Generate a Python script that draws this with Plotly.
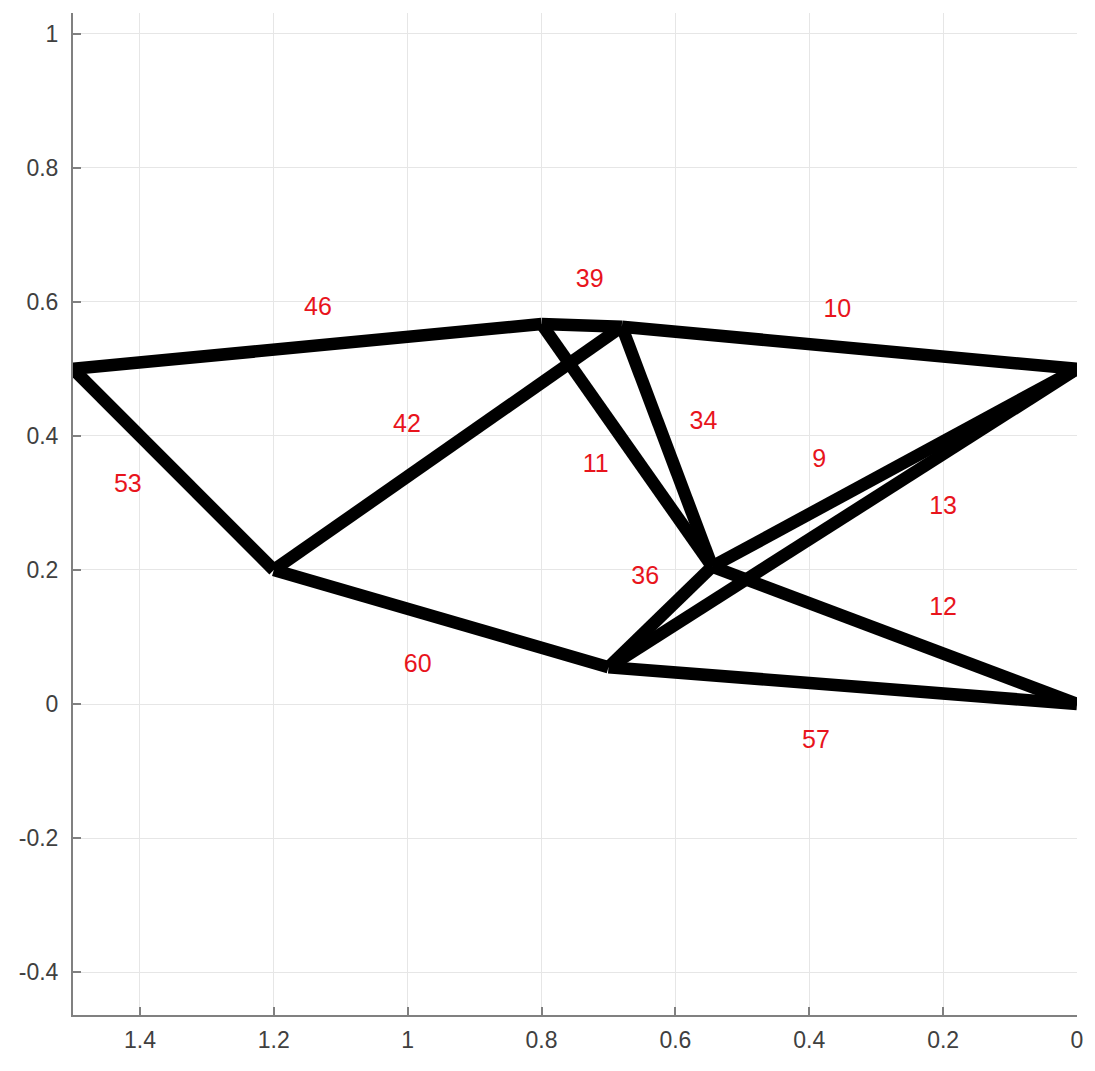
import plotly.graph_objects as go

# Node coordinates of the truss
node_names = ["A", "B", "C", "D", "E", "F", "G", "H"]
node_x = [1.5, 1.2, 0.8, 0.68, 0.545, 0.7, 0.0, 0.0]
node_y = [0.5, 0.2, 0.567, 0.563, 0.205, 0.055, 0.5, 0.0]

# Members: start node, end node, member number
member_start = ["A", "A", "B", "B", "C", "C", "D", "D", "E", "F", "E", "F", "E"]
member_end   = ["C", "B", "D", "F", "D", "E", "E", "G", "G", "G", "H", "H", "F"]
member_ids   = [46, 53, 42, 60, 39, 11, 34, 10, 9, 13, 12, 57, 36]

# Member number label positions
label_x = [1.134, 1.418, 1.001, 0.985, 0.728, 0.719, 0.558, 0.358, 0.385, 0.200, 0.200, 0.390, 0.645]
label_y = [0.590, 0.325, 0.415, 0.057, 0.631, 0.355, 0.419, 0.587, 0.363, 0.293, 0.142, -0.057, 0.188]

# Axis ticks
x_ticks = [1.4, 1.2, 1.0, 0.8, 0.6, 0.4, 0.2, 0.0]
x_tick_text = ["1.4", "1.2", "1", "0.8", "0.6", "0.4", "0.2", "0"]
y_ticks = [1.0, 0.8, 0.6, 0.4, 0.2, 0.0, -0.2, -0.4]
y_tick_text = ["1", "0.8", "0.6", "0.4", "0.2", "0", "-0.2", "-0.4"]

pos = {n: (x, y) for n, x, y in zip(node_names, node_x, node_y)}

fig = go.Figure()

# One trace per member so each is drawn as an independent thick bar
for s, e in zip(member_start, member_end):
    fig.add_trace(go.Scatter(
        x=[pos[s][0], pos[e][0]],
        y=[pos[s][1], pos[e][1]],
        mode="lines",
        line=dict(color="black", width=12.5),
        hoverinfo="skip",
        showlegend=False,
        cliponaxis=False,
    ))

fig.add_trace(go.Scatter(
    x=label_x,
    y=label_y,
    mode="text",
    text=[str(m) for m in member_ids],
    textfont=dict(family="Liberation Sans, Arial, sans-serif", size=25, color="#e8141c"),
    hoverinfo="skip",
    showlegend=False,
))

axis_common = dict(
    showgrid=True,
    gridcolor="#e6e6e6",
    gridwidth=1,
    zeroline=False,
    showline=True,
    linecolor="#808080",
    linewidth=2,
    ticks="inside",
    ticklen=8,
    tickwidth=2,
    tickcolor="#808080",
    tickfont=dict(family="Liberation Sans, Arial, sans-serif", size=23, color="#404040"),
    mirror=False,
)

fig.update_xaxes(
    range=[1.5, 0.0],
    tickvals=x_ticks,
    ticktext=x_tick_text,
    ticklabelstandoff=3,
    **axis_common,
)
fig.update_yaxes(
    range=[-0.464, 1.031],
    tickvals=y_ticks,
    ticktext=y_tick_text,
    ticklabelstandoff=8,
    **axis_common,
)

fig.update_layout(
    width=1095,
    height=1071,
    margin=dict(l=73, r=18, t=13, b=56),
    paper_bgcolor="white",
    plot_bgcolor="white",
)

fig.write_html("out.html")
